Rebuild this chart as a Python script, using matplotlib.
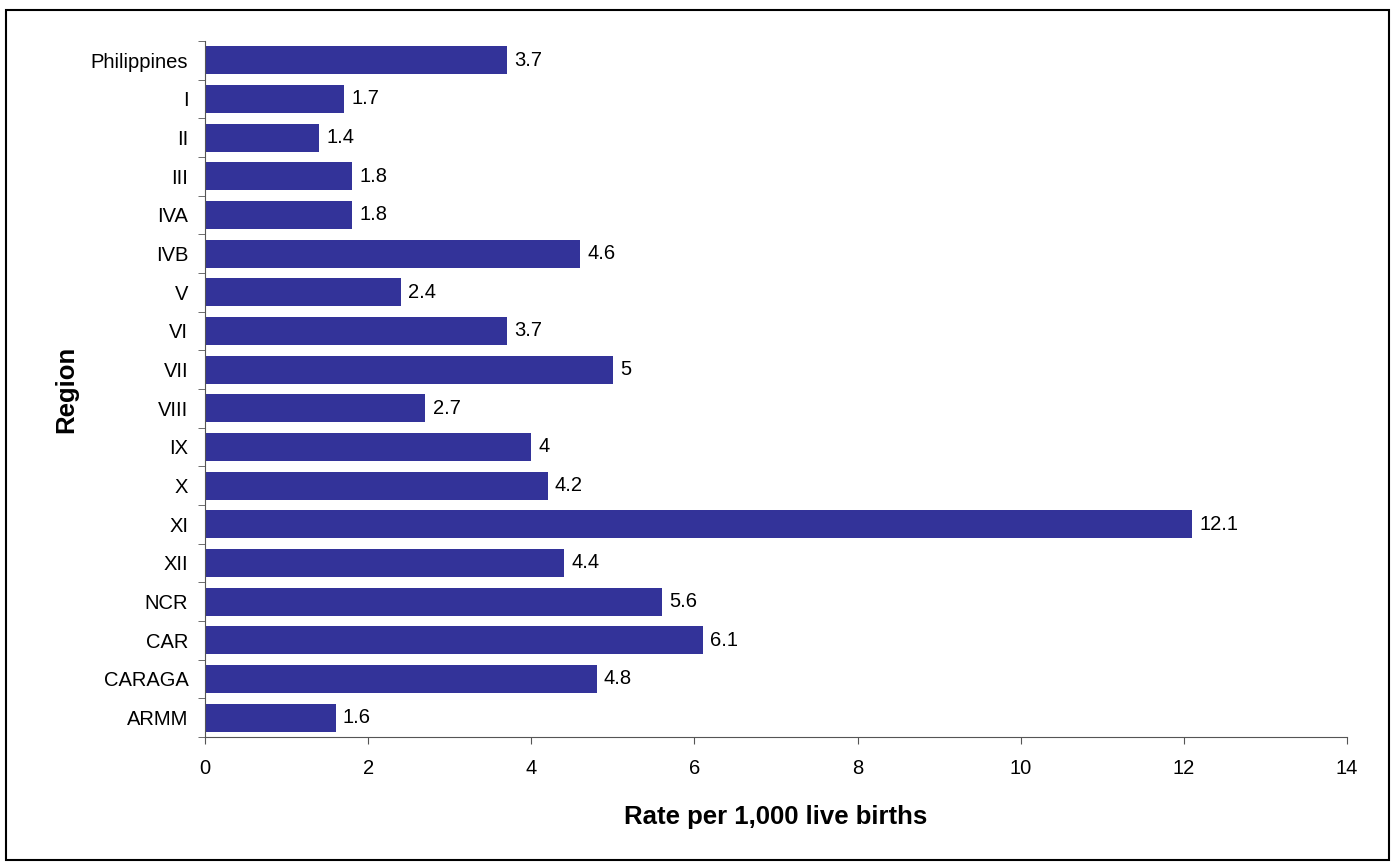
import numpy as np
import matplotlib.pyplot as plt
from matplotlib.patches import Rectangle

plt.rcParams['font.family'] = ['Liberation Sans', 'DejaVu Sans']

regions = ['Philippines', 'I', 'II', 'III', 'IVA', 'IVB', 'V', 'VI', 'VII', 'VIII',
           'IX', 'X', 'XI', 'XII', 'NCR', 'CAR', 'CARAGA', 'ARMM']
rates = [3.7, 1.7, 1.4, 1.8, 1.8, 4.6, 2.4, 3.7, 5, 2.7,
         4, 4.2, 12.1, 4.4, 5.6, 6.1, 4.8, 1.6]

fig = plt.figure(figsize=(13.96, 8.68), dpi=100)
ax = fig.add_axes([205 / 1396, 1 - 737 / 868, 1142 / 1396, 696 / 868])

y = np.arange(len(regions))
ax.barh(y, rates, height=0.72, color='#333399')
for yi, v in zip(y, rates):
    ax.text(v + 0.09, yi, f'{v:g}', va='center', ha='left', fontsize=14.5)

ax.set_ylim(len(regions) - 0.5, -0.5)
ax.set_xlim(0, 14)
ax.set_xticks(range(0, 15, 2))
ax.set_yticks(y)
ax.set_yticklabels(regions)
ax.set_yticks(np.arange(-0.5, len(regions), 1), minor=True)
ax.tick_params(axis='y', which='major', length=0, pad=12, labelsize=14.5)
ax.tick_params(axis='y', which='minor', length=5, color='#555555')
ax.tick_params(axis='x', length=5, color='#555555', pad=11, labelsize=14.5)

for s in ['top', 'right']:
    ax.spines[s].set_visible(False)
for s in ['left', 'bottom']:
    ax.spines[s].set_color('#555555')

ax.set_xlabel('Rate per 1,000 live births', fontsize=18.5, fontweight='bold', labelpad=19)
ax.set_ylabel('Region', fontsize=18.5, fontweight='bold', labelpad=9)

fig.patches.append(Rectangle((6 / 1396, 8 / 868), 1383 / 1396, 850 / 868,
                             transform=fig.transFigure, fill=False,
                             edgecolor='black', linewidth=1.5))

fig.savefig('out.png', dpi=100)
